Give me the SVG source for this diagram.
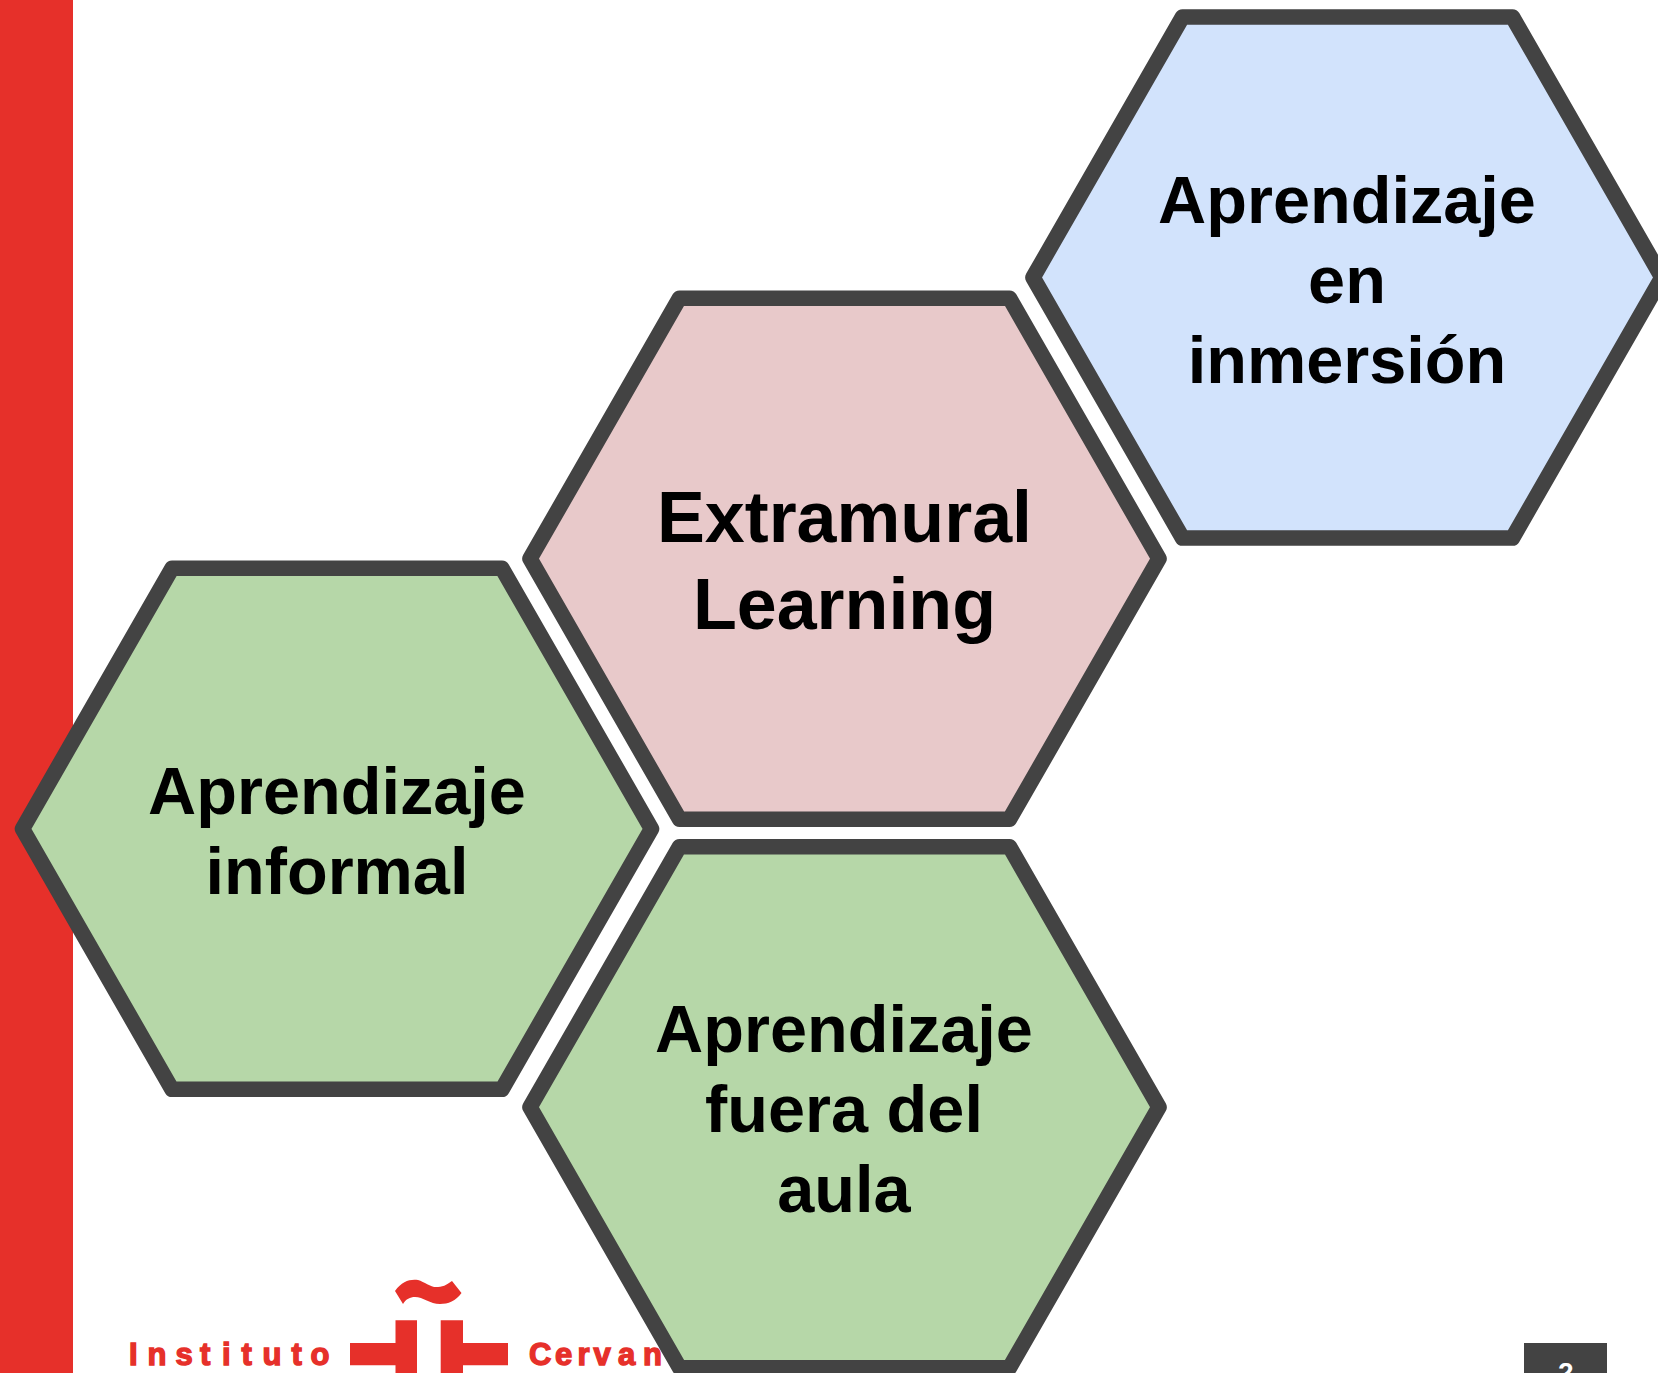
<svg xmlns="http://www.w3.org/2000/svg" width="1658" height="1373" viewBox="0 0 1658 1373">
<style>
.hex{stroke:#434343;stroke-width:15.6;stroke-linejoin:round}
.t{font-family:"Liberation Sans",Arial,sans-serif;font-weight:700;fill:#000;text-anchor:middle;font-size:66.67px}
.big{font-size:71.8px}
.logo{font-family:"Liberation Sans",Arial,sans-serif;font-weight:700;fill:#e6302a;stroke:#e6302a;stroke-width:1.4;font-size:31px}
.red{fill:#e6302a}
</style>
<defs><polygon id="h" points="-314.5,0 -165,-260.5 165,-260.5 314.5,0 165,260.500 -165,260.500"/></defs>
<rect width="1658" height="1373" fill="#fff"/>
<rect class="red" x="0" y="0" width="73" height="1373"/>
<g id="logo">
<text class="logo" x="129 147.500 175.500 200 222 241.500 262.500 291.500 310.500" y="1365">Instituto</text>
<path class="red" d="M350 1343H395.500V1320.300H417V1373H395.500V1365.300H350ZM440.700 1373V1320.300H463V1343H508V1365.300H463V1373Z"/>
<path class="red" d="M395 1291C402 1281 410 1279 418 1280C425 1282 431 1288 438 1287C444 1287 449 1283 452 1281L461.500 1293C456 1301 448 1304 440 1304C430 1304 423 1297 415 1297C410 1297 406 1299 403 1304Z"/>
<text class="logo" x="529 555 577.500 593.500 618 643" y="1365">Cervan</text>
</g>
<g id="page-number">
<rect x="1524" y="1343" width="83" height="30" fill="#434343"/>
<text x="1565.700" y="1382" text-anchor="middle" font-family="Liberation Sans, Arial, sans-serif" font-weight="700" font-size="28" fill="#fff">2</text>
</g>
<g id="node-inmersion">
<use href="#h" class="hex" x="1347.500" y="277.500" fill="#d2e3fc"/>
<text class="t" x="1347" y="222.500">Aprendizaje</text>
<text class="t" x="1347" y="303">en</text>
<text class="t" x="1347" y="383">inmersión</text>
</g>
<g id="node-extramural">
<use href="#h" class="hex" x="844.500" y="558.700" fill="#e8c9ca"/>
<text class="t big" x="844.500" y="542">Extramural</text>
<text class="t big" x="844.500" y="629">Learning</text>
</g>
<g id="node-informal">
<use href="#h" class="hex" x="337" y="828.800" fill="#b6d7a8"/>
<text class="t" x="337" y="814">Aprendizaje</text>
<text class="t" x="337" y="893.500">informal</text>
</g>
<g id="node-fuera">
<use href="#h" class="hex" x="844.500" y="1107.200" fill="#b6d7a8"/>
<text class="t" x="844" y="1052">Aprendizaje</text>
<text class="t" x="844" y="1132">fuera del</text>
<text class="t" x="844" y="1212">aula</text>
</g>
</svg>
